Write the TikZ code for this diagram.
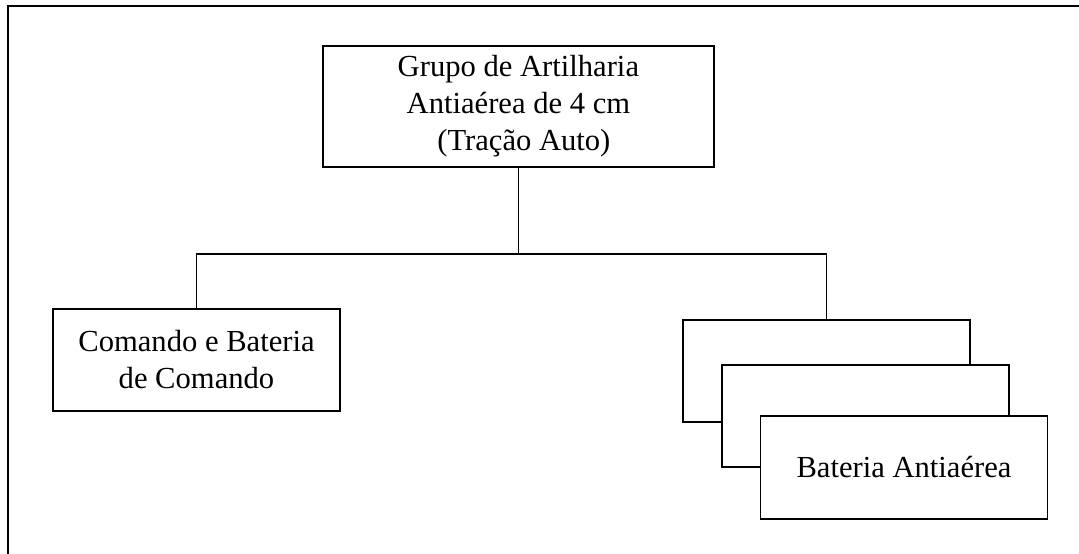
\documentclass[tikz,border=0pt]{standalone}
\usepackage{fontspec}
\setmainfont{Liberation Serif}
\begin{document}
\begin{tikzpicture}[x=1pt,y=-1pt,
  box/.style={draw=black,line width=1.3pt,fill=white,inner sep=0pt,align=center,
    minimum width=287pt,minimum height=102pt,
    font=\fontsize{30.6}{37}\selectfont},
  link/.style={line width=1.3pt,draw=black}]
\useasboundingbox (0,0) rectangle (1079,554);
\draw[line width=1.8pt] (8,554) -- (8,6) -- (1079,6);
\node[box,minimum width=391pt,minimum height=121pt] (top) at (518.4,106.5)
  {Grupo de Artilharia\\Antiaérea de 4 cm\\\hspace*{11pt}(Tração Auto)};
\node[box] (cmd) at (196.5,360) {Comando e Bateria\\de Comando};
\node[box] (bat1) at (826.5,371) {};
\node[box] (bat2) at (865.5,416) {};
\node[box,minimum height=103pt] (bat3) at (904,467.5) {Bateria Antiaérea};
\coordinate (bus) at (518.4,254);
\draw[link] (top.south) -- (bus);
\draw[link] (cmd.north) -- (cmd.north |- bus) -- (bat1.north |- bus) -- (bat1.north);
\end{tikzpicture}
\end{document}
